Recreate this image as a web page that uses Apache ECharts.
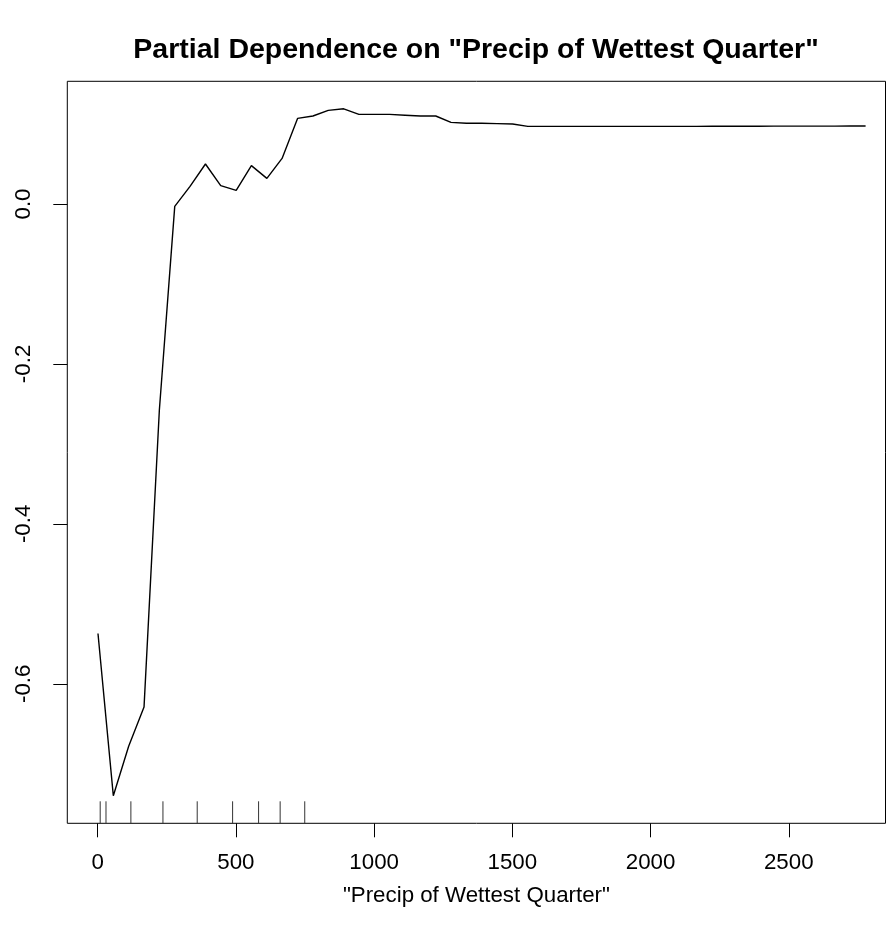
<!DOCTYPE html>
<html>
<head>
<meta charset="utf-8">
<script src="https://cdn.jsdelivr.net/npm/echarts@6/dist/echarts.min.js"></script>
<style>
  html, body { margin: 0; padding: 0; background: #fff; }
  #chart { width: 887px; height: 941px; }
</style>
</head>
<body>
<div id="chart"></div>
<script>
// ---- data ----
const precip = [1, 56.5, 112, 167.6, 223, 278.7, 334, 389.8, 445, 501,
  556, 612, 667, 723, 778.6, 834, 890, 945, 1001, 1056,
  1112, 1167, 1223, 1278, 1334, 1389, 1445, 1501, 1556, 1612,
  1667, 1723, 1778, 1834, 1889, 1945, 2000, 2056, 2112, 2167,
  2223, 2278, 2334, 2389, 2445, 2500, 2556, 2611, 2667, 2722, 2778];
const partialDep = [-0.537, -0.740, -0.678, -0.629, -0.258, -0.003, 0.022, 0.050, 0.023, 0.017,
  0.048, 0.032, 0.057, 0.107, 0.110, 0.117, 0.119, 0.112, 0.112, 0.112,
  0.111, 0.110, 0.110, 0.102, 0.101, 0.101, 0.1005, 0.100, 0.097, 0.097,
  0.097, 0.097, 0.097, 0.097, 0.097, 0.097, 0.097, 0.097, 0.097, 0.097,
  0.0972, 0.0972, 0.0972, 0.0972, 0.0973, 0.0973, 0.0973, 0.0974, 0.0974, 0.0975, 0.0975];
const rugValues = [9, 30, 120, 236, 360, 488, 582, 660, 749];
const xTickValues = [0, 500, 1000, 1500, 2000, 2500];
const yTickValues = [0, -0.2, -0.4, -0.6];
const titleText = 'Partial Dependence on "Precip of Wettest Quarter"';
const xAxisTitle = '"Precip of Wettest Quarter"';

// axis limits
const xMin = -110, xMax = 2850;
const yMin = -0.7744, yMax = 0.1534;

const FONT = "'Liberation Sans', Arial, Helvetica, sans-serif";

const chart = echarts.init(document.getElementById('chart'), null, { renderer: 'canvas' });

const option = {
  animation: false,
  backgroundColor: '#ffffff',
  title: {
    text: titleText,
    left: 471,
    top: 31,
    textAlign: 'center',
    textStyle: { fontFamily: FONT, fontSize: 28.5, fontWeight: 'bold', color: '#000' }
  },
  grid: {
    left: 67.3,
    top: 81.3,
    width: 818.2,
    height: 742,
    show: true,
    borderColor: '#000',
    borderWidth: 1,
    backgroundColor: 'transparent',
    containLabel: false,
    outerBoundsMode: 'none'
  },
  xAxis: {
    type: 'value',
    min: xMin,
    max: xMax,
    name: xAxisTitle,
    nameLocation: 'middle',
    nameGap: 62,
    nameTextStyle: { fontFamily: FONT, fontSize: 22.3, color: '#000' },
    axisLine: { show: false, onZero: false },
    splitLine: { show: false },
    axisTick: {
      show: true, inside: false, length: 14,
      customValues: xTickValues,
      lineStyle: { color: '#000', width: 1 }
    },
    axisLabel: {
      show: true, margin: 29,
      customValues: xTickValues,
      fontFamily: FONT, fontSize: 22.3, color: '#000',
      formatter: v => String(v)
    }
  },
  yAxis: {
    type: 'value',
    min: yMin,
    max: yMax,
    axisLine: { show: false, onZero: false },
    splitLine: { show: false },
    axisTick: {
      show: true, inside: false, length: 14,
      customValues: yTickValues,
      lineStyle: { color: '#000', width: 1 }
    },
    axisLabel: {
      show: true, margin: 32, rotate: 90,
      customValues: yTickValues,
      fontFamily: FONT, fontSize: 22.3, color: '#000',
      formatter: v => (Math.abs(v) < 1e-9 ? '0.0' : v.toFixed(1))
    }
  },
  series: [
    {
      type: 'line',
      data: precip.map((x, i) => [x, partialDep[i]]),
      showSymbol: false,
      symbol: 'none',
      lineStyle: { color: '#000', width: 1.4 },
      z: 3
    },
    {
      type: 'custom',
      data: rugValues.map(v => [v]),
      encode: { x: 0 },
      renderItem: function (params, api) {
        const p = api.coord([api.value(0), yMin]);
        return {
          type: 'line',
          shape: { x1: p[0], y1: p[1], x2: p[0], y2: p[1] - 22 },
          style: { stroke: '#333', lineWidth: 1 }
        };
      },
      z: 2
    }
  ]
};

chart.setOption(option);
</script>
</body>
</html>
